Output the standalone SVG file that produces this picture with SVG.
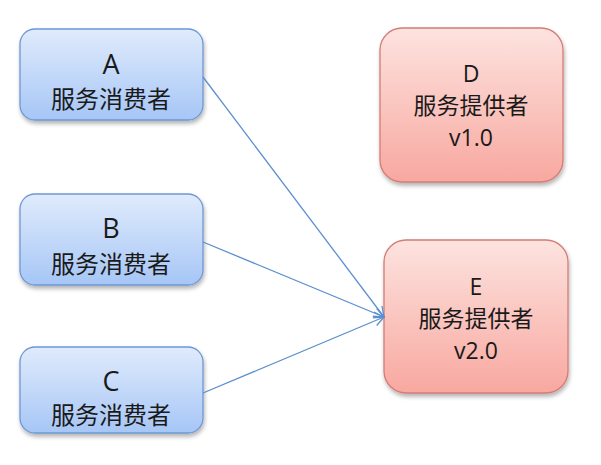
<svg xmlns="http://www.w3.org/2000/svg" width="601" height="465" viewBox="0 0 601 465">
<defs>
<linearGradient id="gb" x1="0" y1="0" x2="0" y2="1">
<stop offset="0" stop-color="#e0ebfc"/>
<stop offset="1" stop-color="#a6c6f6"/>
</linearGradient>
<linearGradient id="gr" x1="0" y1="0" x2="0" y2="1">
<stop offset="0" stop-color="#fde3df"/>
<stop offset="1" stop-color="#f8a8a0"/>
</linearGradient>
<filter id="sh" x="-10%" y="-10%" width="130%" height="130%">
<feGaussianBlur in="SourceAlpha" stdDeviation="2"/>
<feOffset dx="1" dy="3"/>
<feComponentTransfer><feFuncA type="linear" slope="0.3"/></feComponentTransfer>
<feMerge><feMergeNode/><feMergeNode in="SourceGraphic"/></feMerge>
</filter>
<marker id="ah" viewBox="0 0 12 12" refX="11" refY="6" markerWidth="12" markerHeight="12" markerUnits="userSpaceOnUse" orient="auto">
<path d="M1,1 L11,6 L1,11" fill="none" stroke="#5b8fd0" stroke-width="1.3"/>
</marker>
</defs>
<style>
.cons{fill:url(#gb);stroke:#6e98d3;stroke-width:1.3;filter:url(#sh)}
.prov{fill:url(#gr);stroke:#d47c75;stroke-width:1.3;filter:url(#sh)}
text{font-family:"Open Sans","Noto Sans CJK SC",sans-serif;fill:#1a1a1a;text-anchor:middle}
.t{font-size:27px}
.c{font-size:24px}
.p{font-size:23px}
.edge{stroke:#5b8fd0;stroke-width:1.3;fill:none;marker-end:url(#ah)}
</style>
<rect width="601" height="465" fill="#ffffff"/>
<g id="A">
<rect class="cons" x="20" y="29" width="183" height="91" rx="15"/>
<text class="t" x="111" y="74">A</text>
<text class="c" x="111" y="108">服务消费者</text>
</g>
<g id="B">
<rect class="cons" x="20" y="194" width="183" height="91" rx="15"/>
<text class="t" x="111" y="238">B</text>
<text class="c" x="111" y="273">服务消费者</text>
</g>
<g id="C">
<rect class="cons" x="20" y="347" width="183" height="86" rx="15"/>
<text class="t" x="111" y="391">C</text>
<text class="c" x="111" y="424">服务消费者</text>
</g>
<g id="D">
<rect class="prov" x="380" y="28" width="183" height="154" rx="22"/>
<text class="p" x="471" y="82">D</text>
<text class="p" x="471" y="114">服务提供者</text>
<text class="p" x="471" y="146">v1.0</text>
</g>
<g id="E">
<rect class="prov" x="384" y="240" width="184" height="153" rx="22"/>
<text class="p" x="476" y="295">E</text>
<text class="p" x="476" y="327">服务提供者</text>
<text class="p" x="476" y="359">v2.0</text>
</g>
<g id="connectors">
<line class="edge" x1="203" y1="77" x2="384" y2="317"/>
<line class="edge" x1="203" y1="242" x2="384" y2="317"/>
<line class="edge" x1="203" y1="393" x2="384" y2="317"/>
</g>
</svg>
